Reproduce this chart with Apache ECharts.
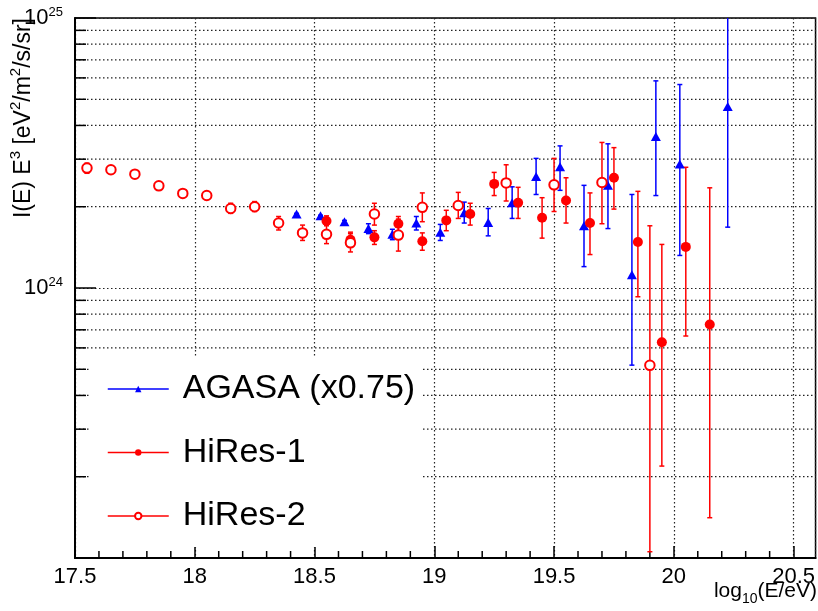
<!DOCTYPE html>
<html><head><meta charset="utf-8">
<script src="https://cdn.jsdelivr.net/npm/echarts@6/dist/echarts.min.js"></script>
<style>html,body{margin:0;padding:0;background:#fff}#c{width:818px;height:611px}</style>
</head><body><div id="c"></div>
<script>
// ---------- data ----------
const agasaX  = [18.425,18.525,18.625,18.725,18.825,18.925,19.025,19.125,19.225,19.325,19.425,19.525,19.625,19.725,19.825,19.925,20.025,20.225];
const agasaY  = [1.88e24,1.85e24,1.76e24,1.66e24,1.58e24,1.74e24,1.61e24,1.90e24,1.75e24,2.07e24,2.59e24,2.81e24,1.70e24,2.40e24,1.12e24,3.64e24,2.88e24,4.70e24];
const agasaLo = [1.87e24,1.84e24,1.74e24,1.59e24,1.51e24,1.64e24,1.50e24,1.74e24,1.56e24,1.81e24,2.22e24,2.30e24,1.20e24,1.66e24,5.18e23,2.20e24,1.32e24,1.68e24];
const agasaHi = [1.89e24,1.86e24,1.78e24,1.73e24,1.65e24,1.84e24,1.72e24,2.08e24,1.97e24,2.37e24,3.02e24,3.36e24,2.40e24,3.42e24,2.22e24,5.85e24,5.67e24,1.2e25];

const hires1X  = [18.55,18.65,18.75,18.85,18.95,19.05,19.15,19.25,19.35,19.45,19.55,19.65,19.75,19.85,19.95,20.05,20.15];
const hires1Y  = [1.77e24,1.51e24,1.54e24,1.73e24,1.49e24,1.78e24,1.88e24,2.43e24,2.07e24,1.82e24,2.11e24,1.74e24,2.56e24,1.48e24,6.3e23,1.42e24,7.33e23];
const hires1Lo = [1.70e24,1.42e24,1.45e24,1.62e24,1.38e24,1.63e24,1.71e24,2.20e24,1.81e24,1.53e24,1.74e24,1.33e24,1.96e24,9.28e23,2.19e23,6.64e23,1.41e23];
const hires1Hi = [1.85e24,1.61e24,1.63e24,1.84e24,1.60e24,1.94e24,2.06e24,2.68e24,2.36e24,2.16e24,2.56e24,2.25e24,3.31e24,2.28e24,1.45e24,2.80e24,2.35e24];

const hires2X  = [17.55,17.65,17.75,17.85,17.95,18.05,18.15,18.25,18.35,18.45,18.55,18.65,18.75,18.85,18.95,19.1,19.3,19.5,19.7,19.9];
const hires2Y  = [2.78e24,2.74e24,2.64e24,2.39e24,2.24e24,2.20e24,1.97e24,2.00e24,1.74e24,1.60e24,1.58e24,1.47e24,1.88e24,1.57e24,1.99e24,2.02e24,2.45e24,2.41e24,2.46e24,5.17e23];
const hires2Lo = [2.66e24,2.66e24,2.60e24,2.35e24,2.20e24,2.15e24,1.89e24,1.92e24,1.64e24,1.50e24,1.46e24,1.36e24,1.71e24,1.37e24,1.76e24,1.81e24,2.10e24,1.92e24,1.73e24,1.055e23];
const hires2Hi = [2.90e24,2.82e24,2.68e24,2.43e24,2.28e24,2.26e24,2.06e24,2.09e24,1.84e24,1.71e24,1.71e24,1.59e24,2.06e24,1.80e24,2.25e24,2.26e24,2.86e24,3.02e24,3.46e24,1.70e24];

const seriesNames = ['AGASA (x0.75)', 'HiRes-1', 'HiRes-2'];

// axis ticks
const xMin = 17.5, xMax = 20.5917, xInterval = 0.5;
const yMin = 1e23, yMax = 1e25;
const xMinorTicks = [17.6,17.7,17.8,17.9,18.1,18.2,18.3,18.4,18.6,18.7,18.8,18.9,19.1,19.2,19.3,19.4,19.6,19.7,19.8,19.9,20.1,20.2,20.3,20.4];
const yMinorTicks = [2e23,3e23,4e23,5e23,6e23,7e23,8e23,9e23,2e24,3e24,4e24,5e24,6e24,7e24,8e24,9e24];

// ---------- chart ----------
const FONT = 'Liberation Sans, Arial, Helvetica, sans-serif';
const chart = echarts.init(document.getElementById('c'), null, {renderer: 'canvas'});

function zip3(x, a, b) { return x.map((v, i) => [v, a[i], b[i]]); }
function zip2(x, a) { return x.map((v, i) => [v, a[i]]); }

function errRender(color) {
  return function (params, api) {
    const x = api.value(0), lo = api.value(1), hi = api.value(2);
    const pLo = api.coord([x, lo]), pHi = api.coord([x, hi]);
    const c = 2.5;
    const st = {stroke: color, lineWidth: 1.5};
    return {type: 'group', children: [
      {type: 'line', shape: {x1: pLo[0], y1: pLo[1], x2: pHi[0], y2: pHi[1]}, style: st},
      {type: 'line', shape: {x1: pLo[0] - c, y1: pLo[1], x2: pLo[0] + c, y2: pLo[1]}, style: st},
      {type: 'line', shape: {x1: pHi[0] - c, y1: pHi[1], x2: pHi[0] + c, y2: pHi[1]}, style: st}
    ]};
  };
}

const gridDash = [1.5, 2.5];
const gridColor = '#222';

const option = {
  animation: false,
  backgroundColor: '#fff',
  grid: {left: 75, top: 18, right: 1, bottom: 53, show: true, borderColor: '#000', borderWidth: 1.5, backgroundColor: 'transparent'},
  xAxis: {
    type: 'value', min: xMin, max: xMax, interval: xInterval,
    axisLine: {show: true, onZero: false, lineStyle: {color: '#000', width: 2}},
    axisTick: {show: true, inside: true, length: 12, lineStyle: {color: '#000', width: 1.5}},
    axisLabel: {show: true, color: '#000', fontFamily: FONT, fontSize: 22, margin: 8, showMaxLabel: false,
      formatter: v => String(Math.round(v * 10) / 10)},
    splitLine: {show: true, lineStyle: {color: gridColor, width: 1.2, type: gridDash}}
  },
  yAxis: {
    type: 'log', logBase: 10, min: yMin, max: yMax,
    axisLine: {show: true, lineStyle: {color: '#000', width: 2}},
    axisTick: {show: true, inside: true, length: 21, lineStyle: {color: '#000', width: 1.5}},
    axisLabel: {show: true, margin: 12, color: '#000', fontFamily: FONT,
      formatter: v => {
        const e = Math.round(Math.log10(v));
        if (e < 24) return '';
        return '{b|10}{s|' + e + '}';
      },
      rich: {
        b: {fontSize: 22, lineHeight: 22, verticalAlign: 'bottom', fontFamily: FONT, color: '#000'},
        s: {fontSize: 13, lineHeight: 13, padding: [0, 0, 10.5, 0], fontFamily: FONT, color: '#000'}
      }
    },
    splitLine: {show: true, lineStyle: {color: gridColor, width: 1.2, type: gridDash}}
  },
  legend: {
    orient: 'vertical', left: 90, top: 356,
    padding: [16, 6, 14, 17], backgroundColor: '#fff',
    itemWidth: 61, itemHeight: 8, itemGap: 29.5,
    textStyle: {fontSize: 34, fontFamily: FONT, color: '#000', padding: [0, 0, 0, 9]},
    lineStyle: {opacity: 1, width: 1.5},
    data: seriesNames
  },
  graphic: [
    {type: 'text', x: 35, y: 18, rotation: Math.PI / 2, z: 100,
      style: {
        text: '{m|I(E) E}{s|3}{m| [eV}{s|2}{m|/m}{s|2}{m|/s/sr]}',
        align: 'right', verticalAlign: 'bottom',
        rich: {
          m: {fontSize: 23, lineHeight: 23, verticalAlign: 'bottom', fontFamily: FONT, fill: '#000'},
          s: {fontSize: 15, lineHeight: 15, padding: [0, 0, 16, 0], fontFamily: FONT, fill: '#000'}
        }
      }},
    {type: 'text', x: 817, y: 580.5, z: 100,
      style: {
        text: '{m|log}{s|10}{m|(E/eV)}',
        align: 'right', verticalAlign: 'top',
        rich: {
          m: {fontSize: 21, lineHeight: 21, verticalAlign: 'top', fontFamily: FONT, fill: '#000'},
          s: {fontSize: 14, lineHeight: 14, padding: [16, 0, 0, 0], fontFamily: FONT, fill: '#000'}
        }
      }}
  ],
  series: [
    // minor horizontal grid lines + minor y ticks
    {type: 'custom', name: 'yminor', silent: true, z: 1, clip: true,
      data: yMinorTicks.map(v => [xMin, v]), encode: {x: 0, y: 1},
      renderItem: (params, api) => {
        const cs = params.coordSys;
        const y = api.coord([xMin, api.value(1)])[1];
        return {type: 'group', children: [
          {type: 'line', shape: {x1: cs.x, y1: y, x2: cs.x + cs.width, y2: y}, style: {stroke: gridColor, lineWidth: 1.2, lineDash: gridDash}},
          {type: 'line', shape: {x1: cs.x, y1: y, x2: cs.x + 11, y2: y}, style: {stroke: '#000', lineWidth: 1.5}}
        ]};
      }},
    // minor x ticks
    {type: 'custom', name: 'xminor', silent: true, z: 1, clip: false,
      data: xMinorTicks.map(v => [v, yMin]), encode: {x: 0, y: 1},
      renderItem: (params, api) => {
        const p = api.coord([api.value(0), yMin]);
        return {type: 'line', shape: {x1: p[0], y1: p[1], x2: p[0], y2: p[1] - 7}, style: {stroke: '#000', lineWidth: 1.5}};
      }},
    // error bars
    {type: 'custom', name: 'agasa-err', silent: true, z: 3, clip: true,
      data: zip3(agasaX, agasaLo, agasaHi), encode: {x: 0, y: [1, 2]}, renderItem: errRender('#0000ff')},
    {type: 'custom', name: 'hires1-err', silent: true, z: 3, clip: true,
      data: zip3(hires1X, hires1Lo, hires1Hi), encode: {x: 0, y: [1, 2]}, renderItem: errRender('#ff0000')},
    {type: 'custom', name: 'hires2-err', silent: true, z: 3, clip: true,
      data: zip3(hires2X, hires2Lo, hires2Hi), encode: {x: 0, y: [1, 2]}, renderItem: errRender('#ff0000')},
    // markers
    {type: 'line', name: seriesNames[0], z: 5, data: zip2(agasaX, agasaY),
      symbol: 'triangle', symbolSize: [10, 9], showAllSymbol: true,
      itemStyle: {color: '#0000ff'}, lineStyle: {opacity: 0, color: '#0000ff'}},
    {type: 'line', name: seriesNames[1], z: 5, data: zip2(hires1X, hires1Y),
      symbol: 'circle', symbolSize: 10, showAllSymbol: true,
      itemStyle: {color: '#ff0000'}, lineStyle: {opacity: 0, color: '#ff0000'}},
    {type: 'line', name: seriesNames[2], z: 5, data: zip2(hires2X, hires2Y),
      symbol: 'emptyCircle', symbolSize: 9.5, showAllSymbol: true,
      itemStyle: {color: '#ff0000', borderWidth: 1.5}, lineStyle: {opacity: 0, color: '#ff0000'}}
  ]
};
chart.setOption(option);
</script>
</body></html>
